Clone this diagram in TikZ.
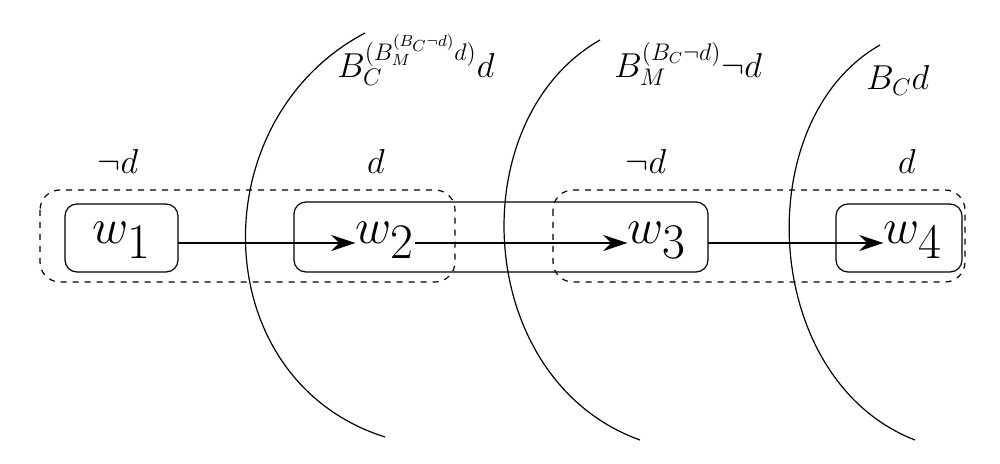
\documentclass[tikz,border=0pt]{standalone}
\usetikzlibrary{arrows.meta}
\begin{document}
\begin{tikzpicture}[x=0.5pt,y=-0.5pt,
  wl/.style={inner sep=0pt,font=\fontsize{46}{50}\selectfont},
  lab/.style={inner sep=0pt,font=\fontsize{17}{20}\selectfont},
  box/.style={draw,rounded corners=6pt,line width=0.6pt},
  dbox/.style={draw,dashed,rounded corners=10pt,line width=0.6pt},
  arr/.style={-{Stealth[length=12pt,width=8pt]},line width=0.6pt},
  arc/.style={line width=0.6pt}]
\useasboundingbox (0,0) rectangle (1000,464);
\draw[box] (65,204) rectangle (178,272);
\draw[box] (294,202) rectangle (708,272);
\draw[box] (836,204) rectangle (962,272);
\draw[dbox] (40,190) rectangle (455,282);
\draw[dbox] (553,190) rectangle (965,282);
\coordinate (b1) at (178,243);
\coordinate (b3) at (708,243);
\node[wl] (w1) at (122,240) {$w_1$};
\node[wl] (w2) at (385,240) {$w_2$};
\node[wl] (w3) at (657,240) {$w_3$};
\node[wl] (w4) at (913,240) {$w_4$};
\draw[arr] (b1) -- (w2.west|-b1);
\draw[arr] (w2.east|-b1) -- (w3.west|-b1);
\draw[arr] (b3) -- (w4.west|-b1);
\node[lab] (l1) at (118,162) {$\neg d$};
\node[lab] (l2) at (376,162) {$d$};
\node[lab] (l3) at (646,162) {$\neg d$};
\node[lab] (l4) at (907,162) {$d$};
\draw[arc] (365,33) .. controls (200,120) and (205,380) .. (385,437);
\draw[arc] (600,40) .. controls (460,120) and (473,380) .. (640,440);
\draw[arc] (880,45) .. controls (748,120) and (760,380) .. (915,440);
\node[lab,anchor=base west] (a1) at (337,78) {$B_C^{(B_M^{(B_C\neg d)}d)}d$};
\node[lab,anchor=base west] (a2) at (614,78) {$B_M^{(B_C\neg d)}\neg d$};
\node[lab,anchor=base west] (a3) at (866,90) {$B_C d$};
\end{tikzpicture}
\end{document}
